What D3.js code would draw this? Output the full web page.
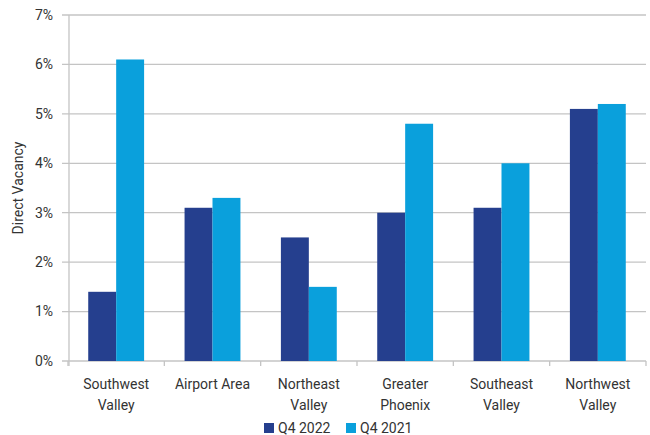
<!DOCTYPE html>
<html><head><meta charset="utf-8">
<script src="https://cdn.jsdelivr.net/npm/d3@7"></script>
<style>body{margin:0;background:#fff}svg{display:block;font-family:Roboto,"Noto Sans",sans-serif}</style>
</head><body><svg id="c" width="650" height="435"></svg>
<script>
const categories = [["Southwest","Valley"],["Airport Area"],["Northeast","Valley"],["Greater","Phoenix"],["Southeast","Valley"],["Northwest","Valley"]];
const seriesNames = ["Q4 2022","Q4 2021"];
const q42022 = [1.4,3.1,2.5,3.0,3.1,5.1];
const q42021 = [6.1,3.3,1.5,4.8,4.0,5.2];
const yTicks = [0,1,2,3,4,5,6,7];
const colors = ["#253f8e","#0aa0dc"];

const svg = d3.select("#c");
const m = {l:68, r:4, t:15, b:74};
const W = 650, H = 435;
const FS = 14;
const x = d3.scaleBand().domain(d3.range(categories.length)).range([m.l, W-m.r]);
const y = d3.scaleLinear().domain([0,7]).range([H-m.b, m.t]);
const bw = x.bandwidth()*0.29;

// grid
svg.append("g").selectAll("line").data(yTicks).join("line")
  .attr("x1", m.l-6).attr("x2", W-m.r).attr("y1", d=>y(d)).attr("y2", d=>y(d))
  .attr("stroke","#c4c4c4").attr("stroke-width",1.3);
// y axis line
svg.append("line").attr("x1",m.l+1).attr("x2",m.l+1).attr("y1",m.t).attr("y2",y(0)+5)
  .attr("stroke","#c4c4c4").attr("stroke-width",1.3);
// x ticks
svg.append("g").selectAll("line").data(d3.range(categories.length+1)).join("line")
  .attr("x1", i=> i<categories.length ? x(i) : W-m.r).attr("x2", i=> i<categories.length ? x(i) : W-m.r)
  .attr("y1", y(0)).attr("y2", y(0)+5).attr("stroke","#c4c4c4").attr("stroke-width",1.3);

// y labels
svg.append("g").selectAll("text").data(yTicks).join("text")
  .attr("x", 53).attr("y", d=>y(d)).attr("dy","0.35em").attr("text-anchor","end")
  .attr("font-size",FS).attr("fill","#333").text(d=>d+"%");

// bars
const series = [q42022, q42021];
series.forEach((vals, s) => {
  svg.append("g").selectAll("rect").data(vals).join("rect")
    .attr("x", (d,i)=> x(i)+x.bandwidth()/2 - bw + s*bw)
    .attr("width", bw)
    .attr("y", d=>y(d)).attr("height", d=>y(0)-y(d))
    .attr("fill", colors[s]);
});

// category labels
const cl = svg.append("g").selectAll("text").data(categories).join("text")
  .attr("text-anchor","middle").attr("font-size",FS).attr("fill","#333");
cl.each(function(lines,i){
  d3.select(this).selectAll("tspan").data(lines).join("tspan")
    .attr("x", x(i)+x.bandwidth()/2).attr("y",(d,j)=> 389 + j*21).text(d=>d);
});

// axis title
svg.append("text").attr("transform",`translate(23,${(y(0)+y(7))/2}) rotate(-90)`)
  .attr("text-anchor","middle").attr("font-size",FS).attr("fill","#333").text("Direct Vacancy");

// legend
const lg = svg.append("g");
const lx = [264, 346];
seriesNames.forEach((n,s)=>{
  lg.append("rect").attr("x",lx[s]).attr("y",423).attr("width",10).attr("height",10).attr("fill",colors[s]);
  lg.append("text").attr("x",lx[s]+14).attr("y",433).attr("font-size",FS).attr("fill","#333").text(n);
});
</script></body></html>
